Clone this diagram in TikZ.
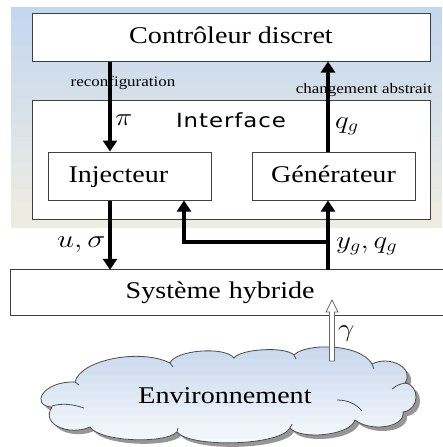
\documentclass[tikz,border=0pt]{standalone}
\usepackage{fontspec}
\usepackage{graphicx}
\setmainfont{Liberation Serif}[FakeStretch=1.17]
\newfontfamily\ifacefont{DejaVu Sans}[FakeStretch=1.17, LetterSpace=5]
\usetikzlibrary{arrows.meta, calc}

\definecolor{panelTop}{RGB}{196,215,240}
\definecolor{panelBottom}{RGB}{238,236,225}
\definecolor{cloudTop}{RGB}{200,215,237}
\definecolor{cloudBottom}{RGB}{246,249,253}
\definecolor{cloudShadow}{RGB}{150,150,150}
\definecolor{frameLine}{RGB}{64,64,64}

% widened math, to sit with the stretched text face
\newcommand{\wm}[1]{\scalebox{1.17}[1]{$#1$}}

% outline of the environment cloud: twelve puffs meeting in inward cusps
\def\envoutline{(52,407) .. controls (30,406) and (42,381) .. (75,382)
  .. controls (80,360) and (140,348) .. (170,363)
  .. controls (175,350) and (225,346) .. (234,358)
  .. controls (240,349) and (285,346) .. (294,355)
  .. controls (305,343) and (360,343) .. (372,364)
  .. controls (390,355) and (415,368) .. (405,383)
  .. controls (420,385) and (420,410) .. (403,412)
  .. controls (405,428) and (370,432) .. (355,420)
  .. controls (350,436) and (300,440) .. (290,428)
  .. controls (280,446) and (190,448) .. (177,432)
  .. controls (165,444) and (100,442) .. (90,427)
  .. controls (70,436) and (40,425) .. cycle}

\begin{document}
\begin{tikzpicture}[x=1pt, y=-1pt,
  frame/.style={draw=frameLine, line width=1pt, fill=white, inner sep=0pt,
                text height=17pt, text depth=5pt},
  flow/.style={line width=4pt, -{Triangle[width=14pt,length=11pt]}},
  big/.style={font=\fontsize{24}{28}\selectfont},
  small/.style={font=\fontsize{14.5}{16}\selectfont, inner sep=0pt},
  lbl/.style={font=\fontsize{24}{28}\selectfont, inner sep=0pt},
  lblbig/.style={font=\fontsize{27}{30}\selectfont, inner sep=0pt},
  curl/.style={draw=black!70, line width=0.8pt},
]
\useasboundingbox (0,0) rectangle (442,447);

% backdrop of the control part, banded from blue to beige
\foreach \i in {0,...,16} {
  \pgfmathtruncatemacro\pct{100-\i*100/16}
  \fill[panelTop!\pct!panelBottom] (11,{7+\i*13}) rectangle (442,{min(228,21+\i*13)});
}

% blocks
\node[frame, big, minimum width=398, minimum height=48] (ctrl) at (231,37) {Contrôleur discret};
\node[frame, minimum width=398, minimum height=119] (iface) at (231,159.5) {};
\node[anchor=base, inner sep=0pt, font=\ifacefont\fontsize{19.5}{22}\selectfont] (ifacelbl) at (231,127.5) {Interface};
\node[frame, big, anchor=west, text width=123pt, inner xsep=20pt, align=left, minimum height=48] (inj) at (48,176) {Injecteur};
\node[frame, big, minimum width=163, minimum height=48] (gen) at (333.5,176) {Générateur};
\node[big, anchor=west, text width=420pt, inner xsep=0pt, align=center, minimum height=45,
      text height=17pt, text depth=5pt] (sys) at (10,292.5) {Système hybride};
\draw[frameLine, line width=1pt] (sys.north west) rectangle ([xshift=30pt]sys.south east);

% environment cloud: shadow, banded fill, outline
\begin{scope}[shift={(4,4)}]
  \fill[cloudShadow] \envoutline;
\end{scope}
\fill[cloudTop!55!cloudBottom] \envoutline;
\begin{scope}
  \clip \envoutline;
  \foreach \i in {0,...,12} {
    \pgfmathtruncatemacro\pct{100-\i*100/12}
    \fill[cloudTop!\pct!cloudBottom] (30,{343+\i*8}) rectangle (430,{352+\i*8});
  }
\end{scope}
\draw[black!70, line width=0.8pt] \envoutline;
\draw[curl] (52,406) .. controls (62,403) and (72,404) .. (84,408);
\draw[curl] (392,389) .. controls (397,385) and (402,383) .. (407,383);
\draw[curl] (337,400) .. controls (348,400) and (356,404) .. (362,411);
\draw[curl] (75,382) -- (79,385);
\draw[curl] (170,363) -- (173,367);
\draw[curl] (294,355) -- (296,359);
\draw[curl] (372,364) -- (374,369);
\draw[curl] (290,428) -- (292,424);
\draw[curl] (177,432) -- (178,428);
\node[big, anchor=base, inner sep=0pt] (envlbl) at (225,403) {Environnement};

% signal labels
\node[small, anchor=base] (reclbl) at (123,86) {reconfiguration};
\node[small, anchor=base] (chglbl) at (364,93) {changement abstrait};
\node[lbl, anchor=base west] (pilbl) at (115,125) {\wm{\pi}};
\node[lblbig, anchor=base west] (qlbl) at (335,128) {\wm{q_g}};
\node[lbl, anchor=base west] (uslbl) at (57,247) {\scalebox{1.22}[1]{$u,\sigma$}};
\node[lblbig, anchor=base west] (yqlbl) at (336,248) {\wm{y_g,q_g}};
\node[lbl, anchor=base west] (gamlbl) at (338,336) {\wm{\gamma}};

% signal paths
\coordinate (xl) at (110,0);
\coordinate (xm) at (184,0);
\coordinate (xr) at (328,0);
\coordinate (ybus) at (0,242);
\draw[flow] (ctrl.south -| xl) -- (inj.north -| xl);
\draw[flow] (inj.south -| xl) -- (sys.north -| xl);
\draw[flow] (sys.north -| xr) -- (gen.south -| xr);
\draw[flow] (gen.north -| xr) -- (ctrl.south -| xr);
\draw[flow] (ybus -| xr) -- (ybus -| xm) -- (inj.south -| xm);

% disturbance from the environment (hollow arrow)
\coordinate (gtail) at (332,361);
\coordinate (gtip) at (332,300);
\draw[black!60, fill=white, line width=0.8pt, line join=miter]
  ($(gtail)+(-2.5,0)$) -- ($(gtip)+(-2.5,12)$) -- ($(gtip)+(-6,12)$) -- (gtip)
  -- ($(gtip)+(6,12)$) -- ($(gtip)+(2.5,12)$) -- ($(gtail)+(2.5,0)$) -- cycle;
\end{tikzpicture}
\end{document}
